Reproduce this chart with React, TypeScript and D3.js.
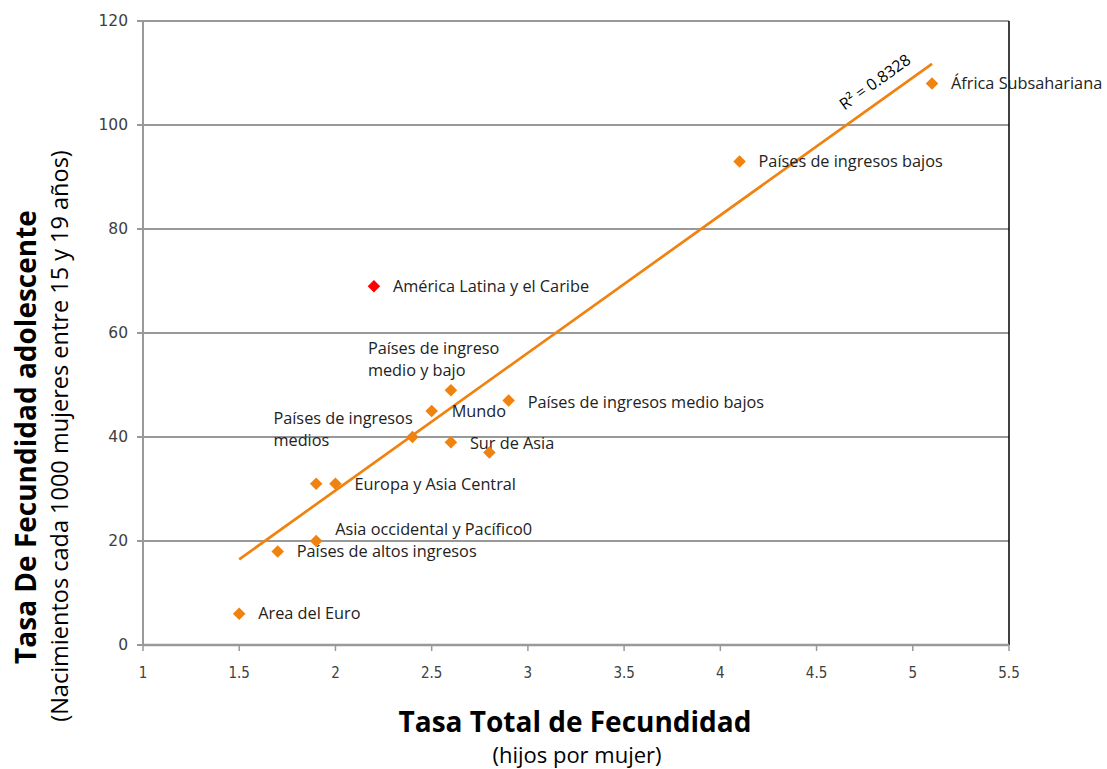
import React from "react";
import * as d3 from "d3";

// Regions: total fertility rate vs. adolescent fertility rate
const regions = [
  "Area del Euro",
  "Países de altos ingresos",
  "Asia occidental y Pacífico0",
  "",
  "Europa y Asia Central",
  "Países de ingresos\nmedios",
  "Mundo",
  "Países de ingreso\nmedio y bajo",
  "Sur de Asia",
  "",
  "Países de ingresos medio bajos",
  "América Latina y el Caribe",
  "Países de ingresos bajos",
  "África Subsahariana",
];
const totalFertility = [1.5, 1.7, 1.9, 1.9, 2.0, 2.4, 2.5, 2.6, 2.6, 2.8, 2.9, 2.2, 4.1, 5.1];
const adolescentFertility = [6, 18, 20, 31, 31, 40, 45, 49, 39, 37, 47, 69, 93, 108];
const highlighted = ["América Latina y el Caribe"];

const xTicks = [1, 1.5, 2, 2.5, 3, 3.5, 4, 4.5, 5, 5.5];
const yTicks = [0, 20, 40, 60, 80, 100, 120];
const rSquaredText = "R² = 0.8328";

// Label placement relative to each marker (px)
const labelOffsets: [number, number][] = [
  [19, 5], [19, 6], [19, -6], [0, 0], [19, 6], [-139, -13], [20, 6],
  [-83, -36], [19, 7], [0, 0], [19, 7], [19, 6], [19, 6], [19, 6],
];

const W = 1107;
const H = 769;
const left = 143;
const right = 1009;
const top = 21;
const bottom = 645;

const ORANGE = "#F0830F";
const GRID = "#999999";
const LABEL_FONT = "'Open Sans', Lato, sans-serif";

export default function App() {
  const x = d3.scaleLinear().domain([1, 5.5]).range([left, right]);
  const y = d3.scaleLinear().domain([0, 120]).range([bottom, top]);

  // Least-squares trend line over the data range
  const mx = d3.mean(totalFertility)!;
  const my = d3.mean(adolescentFertility)!;
  const sxy = d3.sum(totalFertility, (v, i) => (v - mx) * (adolescentFertility[i] - my));
  const sxx = d3.sum(totalFertility, (v) => (v - mx) ** 2);
  const slope = sxy / sxx;
  const intercept = my - slope * mx;
  const [x0, x1] = d3.extent(totalFertility) as [number, number];
  const trend = d3.line<number>()
    .x((v) => x(v))
    .y((v) => y(intercept + slope * v))([x0, x1]);

  const angle =
    (Math.atan2(y(intercept + slope * x1) - y(intercept + slope * x0), x(x1) - x(x0)) * 180) /
    Math.PI;

  const diamond = d3.symbol().type(d3.symbolDiamond2).size(100)();

  return (
    <svg
      width={W}
      height={H}
      style={{ position: "absolute", left: 0, top: 0, background: "#fff" }}
    >
      {/* horizontal gridlines */}
      {yTicks.filter((t) => t > 0).map((t) => (
        <line key={t} x1={left} x2={right} y1={y(t)} y2={y(t)} stroke={GRID} strokeWidth={2} />
      ))}
      {/* right border */}
      <line x1={right} x2={right} y1={top} y2={bottom} stroke="#000" strokeWidth={1.5} />
      {/* y axis */}
      <line x1={left} x2={left} y1={top} y2={bottom} stroke={GRID} strokeWidth={2} />
      {yTicks.map((t) => (
        <g key={t}>
          <line x1={left - 6} x2={left} y1={y(t)} y2={y(t)} stroke={GRID} strokeWidth={2} />
          <text
            x={left - 15}
            y={y(t)}
            dy="0.35em"
            textAnchor="end"
            fontFamily="'DejaVu Sans', Verdana, sans-serif"
            fontSize={15.5}
            fill="#404040"
          >
            {t}
          </text>
        </g>
      ))}
      {/* x axis */}
      <line x1={left} x2={right} y1={bottom} y2={bottom} stroke={GRID} strokeWidth={2.5} />
      {xTicks.map((t) => (
        <g key={t}>
          <line x1={x(t)} x2={x(t)} y1={bottom} y2={bottom + 6} stroke={GRID} strokeWidth={1.5} />
          <text
            x={x(t)}
            y={bottom + 33}
            textAnchor="middle"
            fontFamily="'Liberation Sans Narrow', 'DejaVu Sans Condensed', sans-serif"
            fontSize={15}
            fill="#404040"
          >
            {t}
          </text>
        </g>
      ))}

      {/* trend line */}
      <path d={trend ?? ""} fill="none" stroke={ORANGE} strokeWidth={2.7} />
      <text
        transform={`translate(${875},${82}) rotate(${angle})`}
        textAnchor="middle"
        dy="0.35em"
        fontFamily={LABEL_FONT}
        fontSize={16}
        fill="#000"
      >
        {rSquaredText}
      </text>

      {/* markers and labels */}
      {totalFertility.map((v, i) => {
        const px = x(v);
        const py = y(adolescentFertility[i]);
        const isHi = highlighted.includes(regions[i]);
        const [dx, dy] = labelOffsets[i];
        const lines = regions[i] ? regions[i].split("\n") : [];
        return (
          <g key={i}>
            <path
              d={diamond ?? ""}
              transform={`translate(${px},${py})`}
              fill={isHi ? "#FF0000" : ORANGE}
            />
            {lines.length > 0 && (
              <text
                x={px + dx}
                y={py + dy}
                fontFamily={LABEL_FONT}
                fontSize={16.3}
                fill="#222"
              >
                {lines.map((ln, k) => (
                  <tspan key={k} x={px + dx} dy={k === 0 ? 0 : 22}>
                    {ln}
                  </tspan>
                ))}
              </text>
            )}
          </g>
        );
      })}

      {/* axis titles */}
      <text
        transform="translate(36,437) rotate(-90)"
        textAnchor="middle"
        fontFamily={LABEL_FONT}
        fontWeight="bold"
        fontSize={28}
        fill="#000"
      >
        Tasa De Fecundidad adolescente
      </text>
      <text
        transform="translate(68,436) rotate(-90)"
        textAnchor="middle"
        fontFamily={LABEL_FONT}
        fontSize={23.5}
        fill="#000"
      >
        (Nacimientos cada 1000 mujeres entre 15 y 19 años)
      </text>
      <text
        x={575}
        y={732}
        textAnchor="middle"
        fontFamily={LABEL_FONT}
        fontWeight="bold"
        fontSize={28}
        fill="#000"
      >
        Tasa Total de Fecundidad
      </text>
      <text
        x={577}
        y={763}
        textAnchor="middle"
        fontFamily={LABEL_FONT}
        fontSize={22}
        fill="#000"
      >
        (hijos por mujer)
      </text>
    </svg>
  );
}
